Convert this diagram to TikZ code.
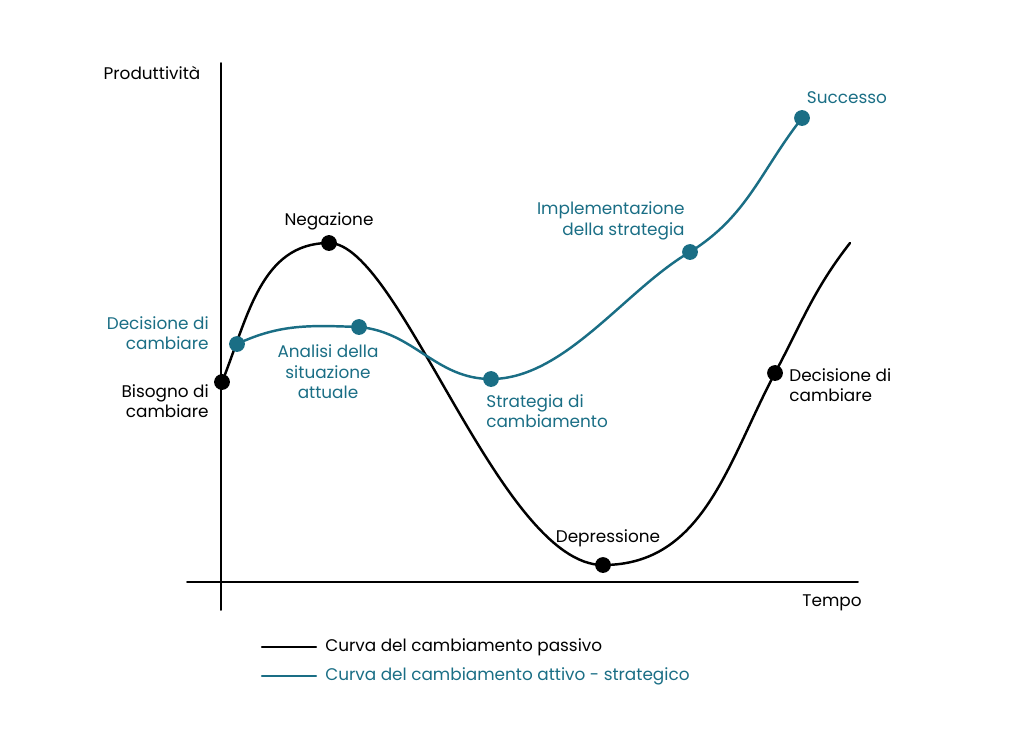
\documentclass[tikz,border=0pt]{standalone}
\usepackage{fontspec}
\setmainfont{Poppins}
\definecolor{tealc}{HTML}{1A6E85}
\tikzset{
    dot/.style={circle,fill=#1,inner sep=0pt,minimum size=9pt},
    lbl/.style={font=\fontsize{9.6}{11.6}\selectfont,align=#1,inner sep=0pt},
    curve/.style={line width=1.4pt,#1}
}
\begin{document}
\begin{tikzpicture}[x=0.02cm,y=-0.02cm,line cap=round]
    \useasboundingbox (0,0) rectangle (1024,737);
    % axes
    \draw[line width=1.1pt] (221,63) -- (221,610);
    \draw[line width=1.1pt] (187,582) -- (858,582);
    \node[lbl=center] (yl) at (152,73) {Produttività};
    \node[lbl=center] (xl) at (832,603) {Tempo};
    % passive curve
    \coordinate (p0) at (222,382);
    \coordinate (pN) at (329,243);
    \coordinate (pD) at (603,565);
    \coordinate (pC) at (775,373);
    \coordinate (pE) at (850,243);
    \draw[curve=black] (p0) to[out=68,in=180] (pN) .. controls (400,243) and (500,565) .. (pD)
        to[out=0,in=-118] (pC) to[out=62,in=-128] (pE);
    % active curve
    \coordinate (a0) at (237,344);
    \coordinate (aA) at (359,327);
    \coordinate (aS) at (491,379);
    \coordinate (aI) at (690,252);
    \coordinate (aE) at (802,118);
    \draw[curve=tealc] (a0) to[out=25,in=178] (aA) to[out=-5,in=180] (aS)
        to[out=0,in=-150,looseness=0.8] (aI) to[out=32,in=-128] (aE);
    % dots
    \foreach \c in {p0,pN,pD,pC}{\node[dot=black] at (\c) {};}
    \foreach \c in {a0,aA,aS,aI,aE}{\node[dot=tealc] at (\c) {};}
    % labels
    \node[lbl=center] (lN) at (329,221) {Negazione};
    \node[lbl=center] (lD) at (608,538) {Depressione};
    \node[lbl=right,anchor=east] (lB) at (209,401) {Bisogno di\\cambiare};
    \node[lbl=left,anchor=west] (lC) at (789,385) {Decisione di\\cambiare};
    \node[lbl=right,anchor=east,text=tealc] (lDc) at (209,333) {Decisione di\\cambiare};
    \node[lbl=center,text=tealc] (lA) at (328,372) {Analisi della\\situazione\\attuale};
    \node[lbl=left,anchor=west,text=tealc] (lS) at (486,411) {Strategia di\\cambiamento};
    \node[lbl=right,anchor=east,text=tealc] (lI) at (685,221) {Implementazione\\della strategia};
    \node[lbl=center,text=tealc] (lSu) at (847,98) {Successo};
    % legend
    \coordinate (k1a) at (262,647); \coordinate (k1b) at (316,647);
    \coordinate (k2a) at (262,676); \coordinate (k2b) at (316,676);
    \draw[curve=black] (k1a) -- (k1b);
    \draw[curve=tealc] (k2a) -- (k2b);
    \node[lbl=left,anchor=west] (t1) at (325,647) {Curva del cambiamento passivo};
    \node[lbl=left,anchor=west,text=tealc] (t2) at (325,676) {Curva del cambiamento attivo - strategico};
\end{tikzpicture}
\end{document}
